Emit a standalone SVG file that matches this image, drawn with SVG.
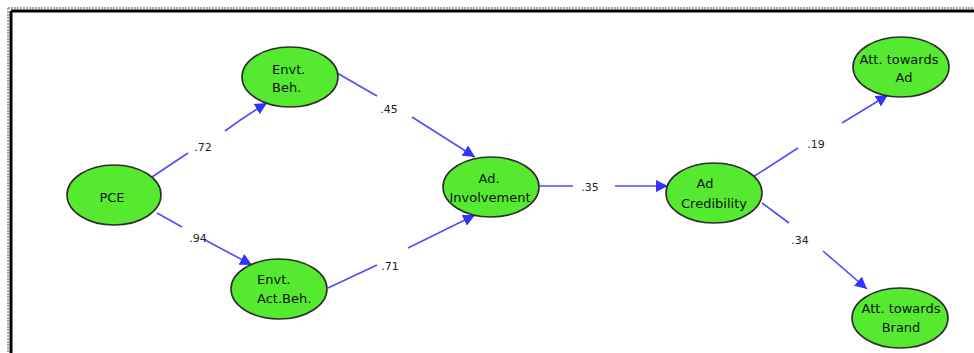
<svg xmlns="http://www.w3.org/2000/svg" width="974" height="353" viewBox="0 0 974 353">
  <style>
    .node ellipse { fill: #55ea2f; stroke: #2e2e2e; stroke-width: 1.6; }
    .node text { font-family: "DejaVu Sans", Verdana, sans-serif; font-size: 13px; fill: #111; }
    .c { text-anchor: middle; }
    .edge { stroke: #4d4dff; stroke-width: 1.6; fill: none; }
    .lbl { font-family: "DejaVu Sans", Verdana, sans-serif; font-size: 11px; fill: #222; text-anchor: middle; }
  </style>
  <defs>
    <marker id="arr" viewBox="0 0 10 10" refX="10" refY="5" markerWidth="12" markerHeight="12" markerUnits="userSpaceOnUse" orient="auto">
      <path d="M0,0 L10,5 L0,10 Z" fill="#3333ff"/>
    </marker>
  </defs>

  <rect width="974" height="353" fill="#ffffff"/>
  <!-- frame -->
  <g id="frame">
    <path d="M8,8 H974 M8,8 V353" stroke="#a8a8a8" stroke-width="2" stroke-dasharray="2 1"/>
    <path d="M11,11 H974 M11,11 V353" stroke="#000" stroke-width="3"/>
  </g>

  <!-- connectors -->
  <g id="connectors">
    <line class="edge" x1="152" y1="177" x2="188" y2="153"/>
    <path class="edge" d="M225,131 Q245,116 267,103" marker-end="url(#arr)"/>
    <line class="edge" x1="157" y1="213" x2="182" y2="227"/>
    <line class="edge" x1="205" y1="240" x2="252" y2="265" marker-end="url(#arr)"/>
    <line class="edge" x1="337" y1="73" x2="377" y2="96"/>
    <line class="edge" x1="412" y1="117" x2="475" y2="157" marker-end="url(#arr)"/>
    <line class="edge" x1="328" y1="288" x2="377" y2="265"/>
    <line class="edge" x1="408" y1="248" x2="475" y2="215" marker-end="url(#arr)"/>
    <line class="edge" x1="539" y1="186" x2="573" y2="186"/>
    <line class="edge" x1="615" y1="186" x2="668" y2="186" marker-end="url(#arr)"/>
    <line class="edge" x1="753" y1="177" x2="798" y2="148"/>
    <line class="edge" x1="842" y1="123" x2="888" y2="95" marker-end="url(#arr)"/>
    <line class="edge" x1="762" y1="203" x2="789" y2="223"/>
    <line class="edge" x1="823" y1="251" x2="867" y2="289" marker-end="url(#arr)"/>
    <text class="lbl" x="203" y="151">.72</text>
    <text class="lbl" x="198" y="242">.94</text>
    <text class="lbl" x="389" y="113">.45</text>
    <text class="lbl" x="390" y="270">.71</text>
    <text class="lbl" x="590" y="191">.35</text>
    <text class="lbl" x="816" y="148">.19</text>
    <text class="lbl" x="800" y="244">.34</text>
  </g>

  <g id="pce" class="node">
    <ellipse cx="114" cy="195" rx="47" ry="30"/>
    <text class="c" x="112" y="202">PCE</text>
  </g>
  <g id="envt-beh" class="node">
    <ellipse cx="290" cy="77" rx="48" ry="30"/>
    <text x="272" y="74">Envt.</text>
    <text x="272" y="92">Beh.</text>
  </g>
  <g id="envt-act-beh" class="node">
    <ellipse cx="279" cy="289" rx="48" ry="30"/>
    <text x="257" y="284">Envt.</text>
    <text x="257" y="303">Act.Beh.</text>
  </g>
  <g id="ad-involvement" class="node">
    <ellipse cx="491" cy="187" rx="48" ry="30"/>
    <text class="c" x="489" y="183">Ad.</text>
    <text class="c" x="490" y="202">Involvement</text>
  </g>
  <g id="ad-credibility" class="node">
    <ellipse cx="714" cy="193" rx="48" ry="30"/>
    <text class="c" x="705" y="188">Ad</text>
    <text class="c" x="714" y="208">Credibility</text>
  </g>
  <g id="att-ad" class="node">
    <ellipse cx="901" cy="67" rx="48" ry="30"/>
    <text class="c" x="899" y="64">Att. towards</text>
    <text class="c" x="904" y="82">Ad</text>
  </g>
  <g id="att-brand" class="node">
    <ellipse cx="900" cy="318" rx="48" ry="30"/>
    <text class="c" x="901" y="313">Att. towards</text>
    <text class="c" x="901" y="332">Brand</text>
  </g>
</svg>
